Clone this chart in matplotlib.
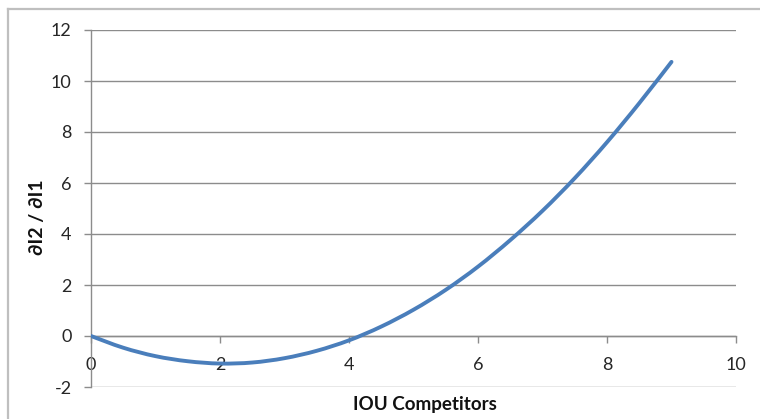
import matplotlib
matplotlib.use("Agg")
import matplotlib.pyplot as plt
from matplotlib.lines import Line2D
from matplotlib.path import Path
from matplotlib.patches import PathPatch

# Series values
competitors = [0, 0.5, 1, 1.5, 2, 2.5, 3, 3.5, 4, 4.5, 5, 5.5, 6, 6.5, 7, 7.5, 8, 8.5, 9]
ratio = [0.0, -0.46, -0.79, -0.99, -1.08, -1.04, -0.87, -0.58, -0.17, 0.37,
         1.03, 1.81, 2.72, 3.76, 4.91, 6.19, 7.60, 9.13, 10.75]

x_ticks = [0, 2, 4, 6, 8, 10]
y_ticks = [-2, 0, 2, 4, 6, 8, 10, 12]
x_title = "IOU Competitors"
y_title = "∂I2 / ∂I1"


def smooth_path(xs, ys, tension=1 / 6):
    """Bezier path through every data point (Catmull-Rom style smoothing)."""
    verts = [(xs[0], ys[0])]
    codes = [Path.MOVETO]
    n = len(xs)
    for i in range(n - 1):
        x0, y0 = (xs[i - 1], ys[i - 1]) if i > 0 else (xs[i], ys[i])
        x1, y1 = xs[i], ys[i]
        x2, y2 = xs[i + 1], ys[i + 1]
        x3, y3 = (xs[i + 2], ys[i + 2]) if i + 2 < n else (x2, y2)
        c1 = (x1 + (x2 - x0) * tension, y1 + (y2 - y0) * tension)
        c2 = (x2 - (x3 - x1) * tension, y2 - (y3 - y1) * tension)
        verts += [c1, c2, (x2, y2)]
        codes += [Path.CURVE4] * 3
    return Path(verts, codes)


W, H = 760, 419
fig = plt.figure(figsize=(W / 100, H / 100), dpi=100)
plt.rcParams['font.family'] = ['Lato', 'DejaVu Sans']

# chart-area border (left and top edges visible)
border = "#bfbfbf"
fig.add_artist(Line2D([8 / W, 8 / W], [0, 1 - 9 / H], color=border, lw=1.6,
                      transform=fig.transFigure))
fig.add_artist(Line2D([8 / W, 1], [1 - 9 / H, 1 - 9 / H], color=border, lw=1.6,
                      transform=fig.transFigure))

left, right, top, bottom = 91, 736, 30, 387
ax = fig.add_axes([left / W, 1 - bottom / H, (right - left) / W, (bottom - top) / H])

grid_c = "#8c8c8c"
ax.set_xlim(0, 10)
ax.set_ylim(-2, 12)
ax.set_yticks(y_ticks)
ax.set_xticks(x_ticks)
ax.yaxis.grid(True, color=grid_c, lw=1.0)
ax.set_axisbelow(True)

for s in ["top", "right"]:
    ax.spines[s].set_visible(False)
ax.spines["left"].set_color(grid_c)
ax.spines["bottom"].set_color(grid_c)
ax.spines["bottom"].set_position(("data", 0))
ax.spines["left"].set_linewidth(1.0)
ax.spines["bottom"].set_linewidth(1.0)

ax.tick_params(axis="y", direction="out", length=5, width=1, color=grid_c,
               pad=9, labelsize=13, labelcolor="#262626")
ax.tick_params(axis="x", direction="out", length=5, width=1, color=grid_c,
               pad=10, labelsize=13, labelcolor="#262626")
ax.set_xticklabels([str(v) for v in x_ticks])
ax.set_yticklabels([str(v) for v in y_ticks])

curve = PathPatch(smooth_path(competitors, ratio), facecolor="none",
                  edgecolor="#4a7ebb", lw=2.8, capstyle="round",
                  joinstyle="round", zorder=3)
ax.add_patch(curve)

fig.text(425 / W, 1 - 404 / H, x_title, ha="center", va="center",
         fontsize=13.5, fontweight="bold", color="#111111")
fig.text(38 / W, 1 - 217 / H, y_title, ha="center", va="center", rotation=90,
         fontsize=14, fontweight="bold", color="#111111")

fig.savefig("out.png", dpi=100)
